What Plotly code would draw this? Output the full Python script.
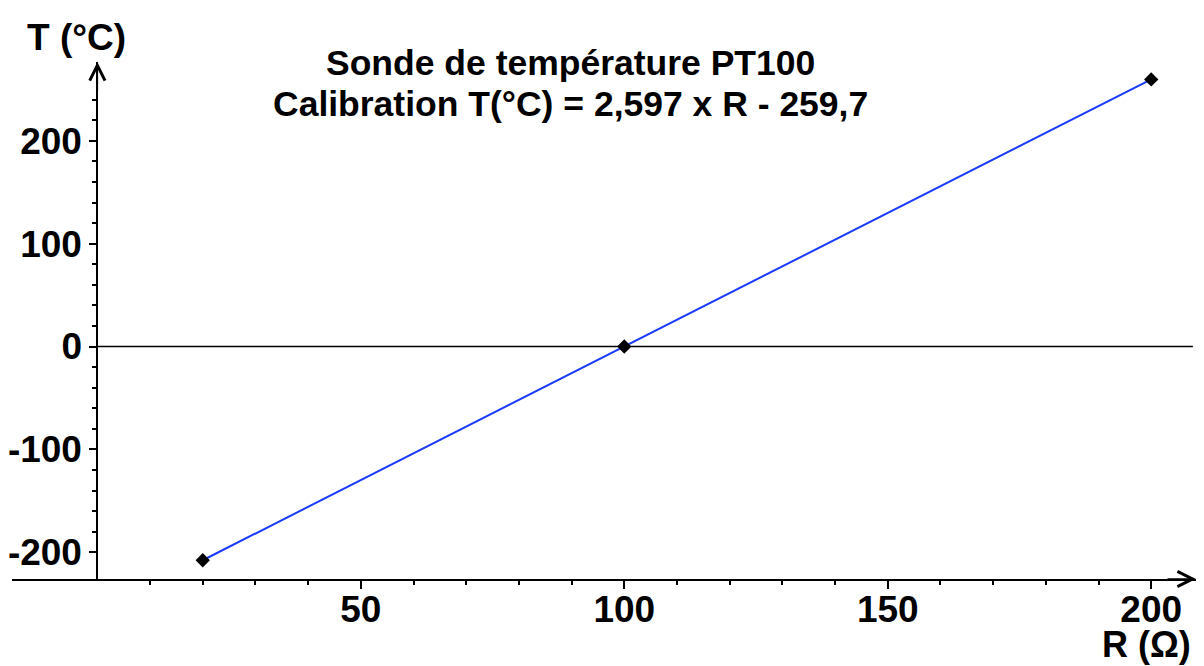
import plotly.graph_objects as go

# Data
R_points = [20, 100, 200]
T_points = [-207.76, 0, 259.7]

x_tick_vals = [50, 100, 150, 200]
x_tick_text = ["50", "100", "150", "200"]
x_minor_vals = [v for v in range(10, 200, 10) if v % 50 != 0]

y_tick_vals = [-200, -100, 0, 100, 200]
y_tick_text = ["-200", "-100", "0", "100", "200"]
y_minor_vals = [v for v in range(-180, 260, 20) if v % 100 != 0]

title_line1 = "Sonde de température PT100"
title_line2 = "Calibration T(°C) = 2,597 x R - 259,7"
x_label = "R (Ω)"
y_label = "T (°C)"

x_range = [-16.2, 208.5]
y_range = [-226, 276.6]

FONT = "Liberation Sans, Arial, sans-serif"
L, R_, T_, B = 12, 8, 62, 87

fig = go.Figure()

fig.add_trace(go.Scatter(
    x=R_points, y=T_points,
    mode="lines",
    line=dict(color="#1a3aff", width=2),
    showlegend=False, cliponaxis=False, hoverinfo="skip",
))
fig.add_trace(go.Scatter(
    x=R_points, y=T_points,
    mode="markers",
    marker=dict(symbol="diamond", size=11, color="black"),
    showlegend=False, cliponaxis=False,
))

# horizontal zero line from the y axis to the right
fig.add_shape(type="line", x0=0, x1=x_range[1] - 0.6, y0=0, y1=0,
              xref="x", yref="y", line=dict(color="black", width=1.5), layer="below")

ypos = (0 - x_range[0]) / (x_range[1] - x_range[0])

fig.update_layout(
    width=1204, height=666,
    margin=dict(l=L, r=R_, t=T_, b=B, autoexpand=False),
    paper_bgcolor="white", plot_bgcolor="white",
    font=dict(family=FONT, color="black"),
    xaxis=dict(
        range=x_range, showgrid=False, zeroline=False, automargin=False,
        showline=True, linecolor="black", linewidth=2,
        ticks="outside", ticklen=8, tickwidth=1.5, tickcolor="black",
        tickmode="array", tickvals=x_tick_vals, ticktext=x_tick_text,
        tickfont=dict(family=FONT, size=37, weight="bold", color="black"),
        minor=dict(tickmode="array", tickvals=x_minor_vals, ticks="outside",
                   ticklen=4, tickwidth=1.5, tickcolor="black", showgrid=False),
        ticklabelstandoff=-11,
    ),
    yaxis=dict(
        range=y_range, showgrid=False, zeroline=False, automargin=False,
        anchor="free", position=ypos,
        showline=True, linecolor="black", linewidth=2,
        ticks="outside", ticklen=7, tickwidth=1.5, tickcolor="black",
        tickmode="array", tickvals=y_tick_vals, ticktext=y_tick_text,
        tickfont=dict(family=FONT, size=37, weight="bold", color="black"),
        minor=dict(tickmode="array", tickvals=y_minor_vals, ticks="outside",
                   ticklen=4, tickwidth=1.5, tickcolor="black", showgrid=False),
    ),
)

# axis arrows
fig.add_annotation(x=x_range[1], y=y_range[0], xref="x", yref="y",
                   ax=-30, ay=0, showarrow=True, arrowhead=5, arrowsize=2,
                   arrowwidth=1.5, arrowcolor="black", text="")
fig.add_annotation(x=0, y=y_range[1], xref="x", yref="y",
                   ax=0, ay=30, showarrow=True, arrowhead=5, arrowsize=2,
                   arrowwidth=1.5, arrowcolor="black", text="")

# axis labels
fig.add_annotation(x=0.0545, y=1.048, xref="paper", yref="paper", text=y_label,
                   showarrow=False, font=dict(family=FONT, size=37, weight="bold"),
                   xanchor="center", yanchor="middle")
fig.add_annotation(x=0.958, y=-0.127, xref="paper", yref="paper", text=x_label,
                   showarrow=False, font=dict(family=FONT, size=36, weight="bold"),
                   xanchor="center", yanchor="middle")

# title lines
fig.add_annotation(x=0.472, y=0.998, xref="paper", yref="paper", text=title_line1,
                   showarrow=False, font=dict(family=FONT, size=35.5, weight="bold"),
                   xanchor="center", yanchor="middle")
fig.add_annotation(x=0.472, y=0.918, xref="paper", yref="paper", text=title_line2,
                   showarrow=False, font=dict(family=FONT, size=35.5, weight="bold"),
                   xanchor="center", yanchor="middle")

fig.write_html("out.html", config={"displayModeBar": False},
               post_script="document.body.style.margin='0';document.body.style.overflow='hidden';")
